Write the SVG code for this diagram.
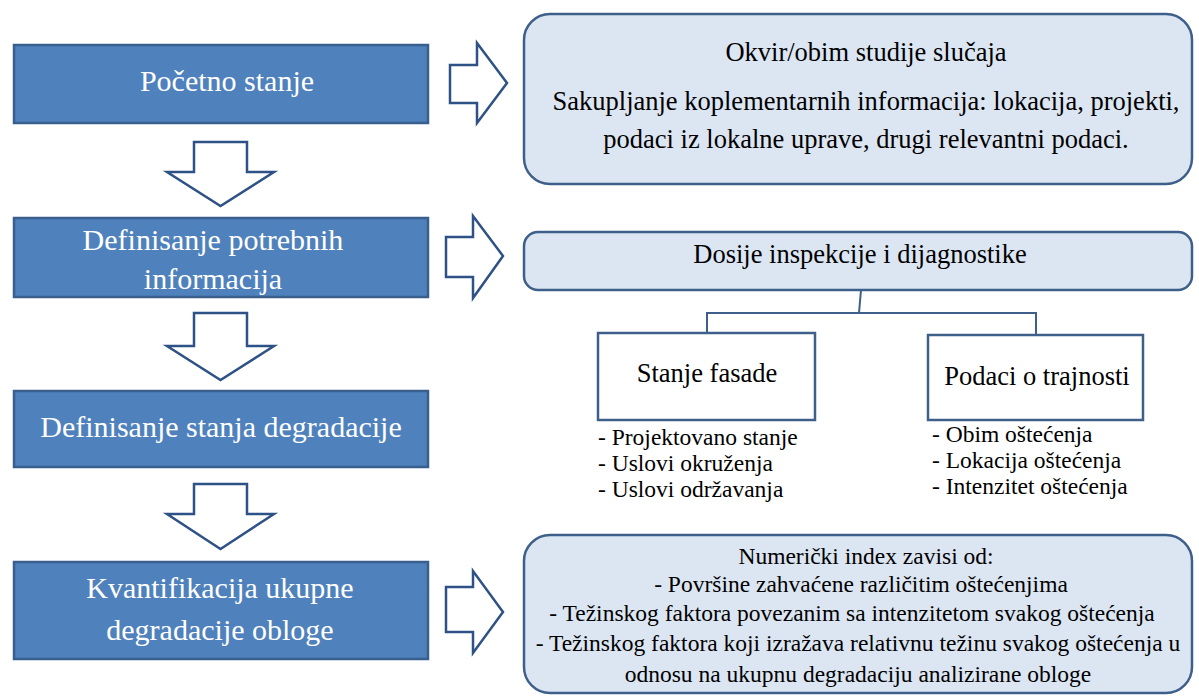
<svg xmlns="http://www.w3.org/2000/svg" width="1199" height="697" viewBox="0 0 1199 697">
  <defs>
    <style>
      .step { fill: #4F81BD; stroke: #3A5F8F; stroke-width: 2.5; }
      .step-text { font-family: "Liberation Serif", "Times New Roman", serif; font-size: 30px; fill: #FFFFFF; text-anchor: middle; }
      .panel { fill: #DCE6F2; stroke: #3E5F8A; stroke-width: 2.5; }
      .sub { fill: #FFFFFF; stroke: #3E5F8A; stroke-width: 2.5; }
      .arrow { fill: #FFFFFF; stroke: #2F5286; stroke-width: 2.5; stroke-linejoin: miter; }
      .link { fill: none; stroke: #3E5F8A; stroke-width: 2; }
      .t { font-family: "Liberation Serif", "Times New Roman", serif; fill: #000000; }
      .c { text-anchor: middle; }
      .h { font-size: 26.5px; }
      .b { font-size: 23.5px; }
    </style>
  </defs>

  <rect width="1199" height="697" fill="#FFFFFF"/>

  <!-- process steps -->
  <g id="step-1">
    <rect class="step" x="14" y="45" width="414" height="78"/>
    <text class="step-text" x="227" y="91">Početno stanje</text>
  </g>
  <g id="step-2">
    <rect class="step" x="14" y="218" width="414" height="79"/>
    <text class="step-text" x="213" y="250">Definisanje potrebnih</text>
    <text class="step-text" x="213" y="289">informacija</text>
  </g>
  <g id="step-3">
    <rect class="step" x="14" y="391" width="414" height="76"/>
    <text class="step-text" x="221" y="437">Definisanje stanja degradacije</text>
  </g>
  <g id="step-4">
    <rect class="step" x="14" y="562" width="414" height="97"/>
    <text class="step-text" x="220" y="598">Kvantifikacija ukupne</text>
    <text class="step-text" x="220" y="640">degradacije obloge</text>
  </g>

  <!-- block arrows and links -->
  <g id="connectors">
    <polygon class="arrow" points="194,142 247,142 247,172 274,172 220.5,206 167,172 194,172"/>
    <polygon class="arrow" points="194,313 247,313 247,346 274,346 220.5,380 167,346 194,346"/>
    <polygon class="arrow" points="194,484 247,484 247,514 274,514 220.5,549 167,514 194,514"/>

    <polygon class="arrow" points="450,65 477,65 477,43 507,83 477,123 477,103 450,103"/>
    <polygon class="arrow" points="446,237 473,237 473,216 503,256 473,298 473,277 446,277"/>
    <polygon class="arrow" points="446,587 473,587 473,571 503,612 473,653 473,632 446,632"/>

    <polyline class="link" points="861,290 859,313 707,313 707,333"/>
    <polyline class="link" points="859,313 1036,313 1036,335"/>
  </g>

  <!-- case study scope -->
  <g id="scope">
    <rect class="panel" x="524" y="14" width="668" height="170" rx="26" ry="26"/>
    <text class="t c h" x="866" y="61">Okvir/obim studije slučaja</text>
    <text class="t c h" x="866" y="110">Sakupljanje koplementarnih informacija: lokacija, projekti,</text>
    <text class="t c h" x="866" y="148">podaci iz lokalne uprave, drugi relevantni podaci.</text>
  </g>

  <!-- inspection dossier -->
  <g id="dossier">
    <rect class="panel" x="524" y="232" width="668" height="58" rx="14" ry="14"/>
    <text class="t c h" x="860" y="263">Dosije inspekcije i dijagnostike</text>
  </g>

  <g id="facade-state">
    <rect class="sub" x="598" y="333" width="217" height="87"/>
    <text class="t c h" x="707" y="382">Stanje fasade</text>
  </g>
  <g id="facade-state-list">
    <text class="t b" x="598" y="445">- Projektovano stanje</text>
    <text class="t b" x="598" y="471">- Uslovi okruženja</text>
    <text class="t b" x="598" y="497">- Uslovi održavanja</text>
  </g>

  <g id="durability">
    <rect class="sub" x="928" y="335" width="215" height="85"/>
    <text class="t c h" x="1037" y="385">Podaci o trajnosti</text>
  </g>
  <g id="durability-list">
    <text class="t b" x="932" y="442">- Obim oštećenja</text>
    <text class="t b" x="932" y="468">- Lokacija oštećenja</text>
    <text class="t b" x="932" y="494">- Intenzitet oštećenja</text>
  </g>

  <!-- numeric index -->
  <g id="index">
    <rect class="panel" x="524" y="535" width="668" height="158" rx="26" ry="26"/>
    <text class="t c b" x="866" y="564">Numerički index zavisi od:</text>
    <text class="t c b" x="861" y="592">- Površine zahvaćene različitim oštećenjima</text>
    <text class="t c b" x="852" y="621">- Težinskog faktora povezanim sa intenzitetom svakog oštećenja</text>
    <text class="t c b" x="858" y="651">- Težinskog faktora koji izražava relativnu težinu svakog oštećenja u</text>
    <text class="t c b" x="858" y="682">odnosu na ukupnu degradaciju analizirane obloge</text>
  </g>
</svg>
